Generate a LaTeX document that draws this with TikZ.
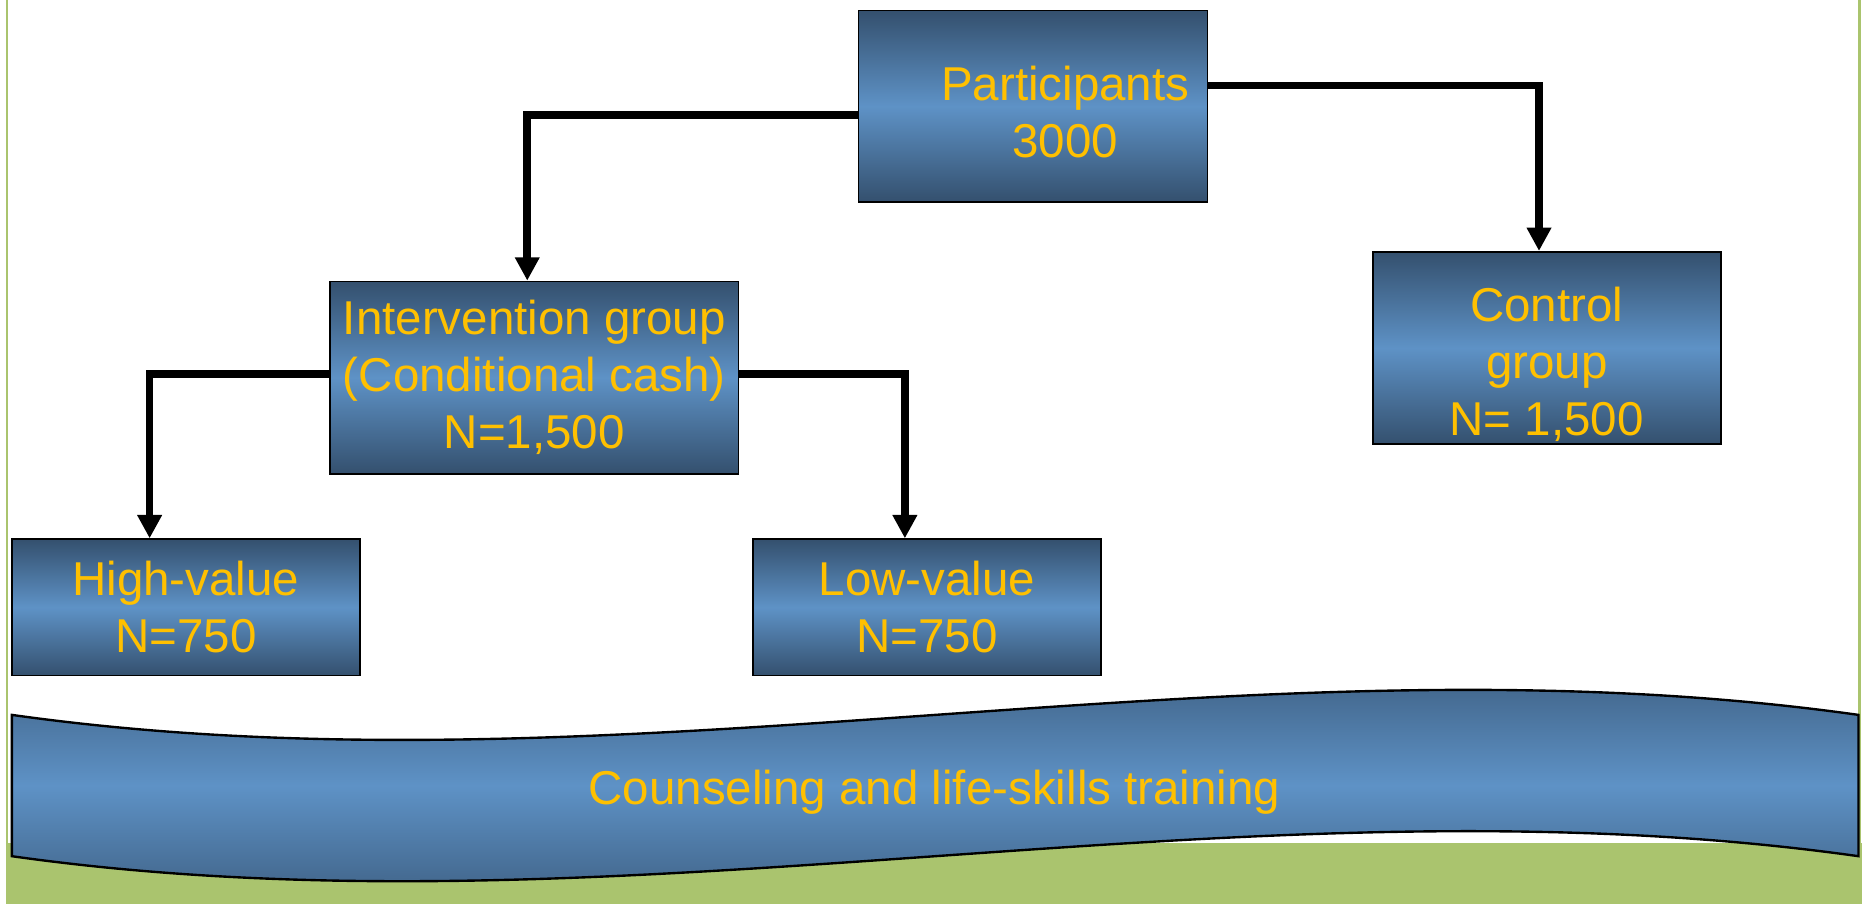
\documentclass[tikz,border=0pt]{standalone}
\usepackage{fontspec}
\setmainfont{Liberation Sans}
\usetikzlibrary{arrows.meta}
\definecolor{boxdark}{HTML}{34506E}
\definecolor{boxlight}{HTML}{5E92C6}
\definecolor{gold}{HTML}{FFC000}
\definecolor{leaf}{HTML}{AAC46E}
\begin{document}
\begin{tikzpicture}[x=0.6pt, y=-0.6pt,
    every node/.style={font=\fontsize{24}{28.8}\selectfont, text=gold, align=center, inner sep=0pt},
    box/.style={draw=black, line width=0.8pt, top color=boxdark, bottom color=boxdark, middle color=boxlight},
    conn/.style={line width=3.8pt, -{Triangle[length=11.8pt,width=11.8pt]}}]
    \useasboundingbox (0,0) rectangle (1568,761) ;
    \fill [leaf] (5,710) rectangle (1568,761) ;
    \fill [leaf] (4.8,0) rectangle (6.4,761) ;
    \fill [leaf] (1565,0) rectangle (1566.8,761) ;

    \node [box, minimum width=176.4pt, minimum height=96.6pt,
        label={[xshift=16.2pt, yshift=-3pt]center:Participants\\3000}] (part) at (870,89.5) {} ;
    \node [box, minimum width=206.4pt, minimum height=97.2pt] (interv) at (450,318)
        {Intervention group\\(Conditional cash)\\N=1,500} ;
    \node [box, minimum width=175.8pt, minimum height=97.2pt,
        label={[yshift=-8.4pt]center:Control\\group\\N= 1,500}] (ctrl) at (1302.5,293) {} ;
    \node [box, minimum width=175.8pt, minimum height=69pt] (high) at (156.5,511.5) {High-value\\N=750} ;
    \node [box, minimum width=175.8pt, minimum height=69pt] (low) at (780.5,511.5) {Low-value\\N=750} ;

    \draw [conn] ([shift={(0,7.5)}]part.west) -| ([shift={(-6,0)}]interv.north) ;
    \draw [conn] ([shift={(0,-17.5)}]part.east) -| ([shift={(-6.5,0)}]ctrl.north) ;
    \draw [conn] ([shift={(0,-3)}]interv.west) -| ([shift={(-30.5,0)}]high.north) ;
    \draw [conn] ([shift={(0,-3)}]interv.east) -| ([shift={(-18.5,0)}]low.north) ;

    \shade [draw=black, line width=1.2pt, top color=boxdark, bottom color=boxdark, middle color=boxlight]
        (10,602) .. controls (528,675) and (1047,529) .. (1565,602)
        -- (1565,721) .. controls (1047,648) and (528,794) .. (10,721) -- cycle ;
    \node (train) at (787,667) {Counseling and life-skills training} ;
\end{tikzpicture}
\end{document}
